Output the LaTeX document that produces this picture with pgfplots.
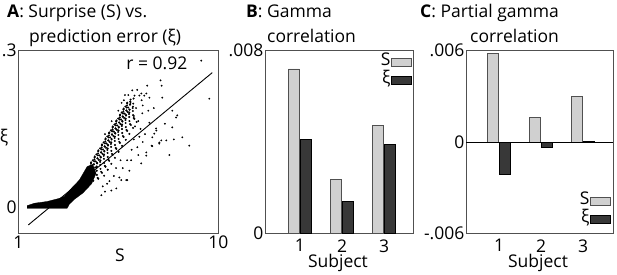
\documentclass[border=0pt]{standalone}
\usepackage{pgfplots}
\pgfplotsset{compat=1.18}
\usepackage{fontspec}
\setmainfont{Open Sans}
\definecolor{frame}{HTML}{505050}
\definecolor{lightbar}{HTML}{D0D0D0}
\definecolor{darkbar}{HTML}{383838}
\newcommand{\fs}{\fontsize{17.5}{21}\selectfont}
\begin{document}
\begin{tikzpicture}[font=\fs]
\useasboundingbox (0,0) rectangle (617pt,274pt);
\pgfplotsset{
  every axis/.append style={scale only axis, anchor=south west, clip=false,
    axis line style={frame, line width=1pt}, major tick length=0pt,
    tick label style={font=\fs}, scaled ticks=false,
    yticklabel style={inner sep=1.5pt}},
  boxleg/.style={legend image code/.code={\draw[##1] (0pt,-4pt) rectangle (20pt,4pt);}},
  barleg/.style={legend style={draw=none, fill=none, font=\fs, row sep=0pt, inner sep=0pt,
    nodes={inner sep=0.5pt, text height=12pt, text depth=5pt}},
    legend plot pos=right, legend cell align=right},
}
% ---------------- Panel A
\begin{axis}[at={(18.3pt,40.7pt)}, width=200pt, height=182.6pt,
  xmin=1, xmax=10, ymin=-0.05, ymax=0.3,
  xtick={1,10}, xticklabels={1,10}, xticklabel style={inner sep=2.5pt},
  ytick={0,0.3}, yticklabels={0\hspace{7pt},.3}]
% solid dense core
\addplot[fill=black, draw=black, line width=0.3pt] coordinates {
(1.40,-0.002) (1.40,0.003) (1.72,0.0076) (2.3,0.011) (2.85,0.017) (3.07,0.021)
(3.385,0.036) (3.745,0.052) (4.1,0.078) (4.35,0.082) (4.5,0.065) (4.3,0.045)
(3.9,0.027) (3.52,0.015) (3.3,0.006) (3.2,-0.002)} -- cycle;
% speckled band
\addplot[only marks, mark=*, mark size=0.8pt, black] coordinates {
(4.375,0.0506) (4.6,0.0546)
(4.366,0.0583) (4.569,0.0563) (4.861,0.0603)
(4.358,0.064) (4.538,0.062) (4.763,0.066)
(4.372,0.0668) (4.529,0.0698) (4.732,0.0678) (5.024,0.0718)
(4.25,0.0765) (4.385,0.0725) (4.52,0.0755) (4.7,0.0735) (4.925,0.0775)
(4.263,0.0802) (4.399,0.0822) (4.534,0.0782) (4.691,0.0812) (4.894,0.0792) (5.186,0.0832)
(4.278,0.086) (4.413,0.088) (4.548,0.084) (4.683,0.087) (4.863,0.085) (5.088,0.089)
(4.426,0.0917) (4.562,0.0937) (4.697,0.0897) (4.854,0.0927) (5.057,0.0907) (5.349,0.0947)
(4.44,0.0974) (4.575,0.0994) (4.71,0.0954) (4.845,0.0984) (5.025,0.0964) (5.25,0.1004)
(4.589,0.1031) (4.725,0.1051) (4.86,0.1011) (5.017,0.1041) (5.22,0.1021) (5.512,0.1061)
(4.603,0.1089) (4.738,0.1109) (4.873,0.1069) (5.008,0.1099) (5.188,0.1079) (5.413,0.1119)
(4.751,0.1146) (4.887,0.1166) (5.022,0.1126) (5.179,0.1156) (5.382,0.1136) (5.674,0.1176)
(4.765,0.1203) (4.9,0.1223) (5.035,0.1183) (5.17,0.1213) (5.35,0.1193) (5.575,0.1233)
(4.914,0.1261) (5.05,0.1281) (5.185,0.1241) (5.342,0.1271) (5.545,0.1251) (5.837,0.1291)
(4.928,0.1318) (5.063,0.1338) (5.198,0.1298) (5.333,0.1328) (5.513,0.1308) (5.738,0.1348)
(5.076,0.1375) (5.212,0.1395) (5.347,0.1355) (5.504,0.1385) (5.707,0.1365) (5.999,0.1405)
(5.091,0.1433) (5.226,0.1453) (5.361,0.1413) (5.496,0.1443) (5.676,0.1423) (5.901,0.1463)
(5.239,0.149) (5.375,0.151) (5.51,0.147) (5.667,0.150) (5.87,0.148) (6.162,0.152)
(5.253,0.1547) (5.388,0.1567) (5.523,0.1527) (5.658,0.1557) (5.838,0.1537) (6.063,0.1577)
(5.401,0.1604) (5.537,0.1624) (5.672,0.1584) (5.829,0.1614) (6.032,0.1594) (6.324,0.1634)
(5.416,0.1662) (5.551,0.1682) (5.686,0.1642) (5.821,0.1672) (6.001,0.1652) (6.226,0.1692)
(5.564,0.1719) (5.7,0.1739) (5.835,0.1699) (5.992,0.1729) (6.195,0.1709)
(5.578,0.1776) (5.713,0.1796) (5.848,0.1756) (5.983,0.1786) (6.163,0.1766)
(5.727,0.1834) (5.863,0.1854) (5.998,0.1814) (6.155,0.1844)
(5.741,0.1891) (5.876,0.1911) (6.011,0.1871) (6.146,0.1901)
(5.889,0.1948) (6.025,0.1968) (6.16,0.1928)
(5.903,0.2005) (6.038,0.2025) (6.173,0.1985)
(6.052,0.2063) (6.188,0.2083)
(4.321,0.0784) (4.461,0.0764)
(4.272,0.0841) (4.402,0.0821) (4.542,0.0851)
(4.354,0.0899) (4.484,0.0879) (4.624,0.0909)
(4.435,0.0956) (4.565,0.0936) (4.705,0.0966)
(4.516,0.1013) (4.646,0.0993) (4.786,0.1023)
(4.598,0.107) (4.728,0.105) (4.868,0.108)
(4.679,0.1128) (4.809,0.1108) (4.949,0.1138)
(4.76,0.1185) (4.89,0.1165) (5.03,0.1195)
(4.841,0.1242) (4.971,0.1222) (5.111,0.1252)
(4.923,0.13) (5.053,0.128) (5.193,0.131)
(5.004,0.1357) (5.134,0.1337) (5.274,0.1367)
(5.085,0.1414) (5.215,0.1394) (5.355,0.1424)
(5.167,0.1472) (5.297,0.1452) (5.437,0.1482)
(5.248,0.1529) (5.378,0.1509) (5.518,0.1539)
(5.329,0.1586) (5.459,0.1566) (5.599,0.1596)
(5.41,0.1643) (5.54,0.1623) (5.68,0.1653)
(5.492,0.1701) (5.622,0.1681) (5.762,0.1711)
(5.573,0.1758) (5.703,0.1738) (5.843,0.1768)
(5.654,0.1815) (5.784,0.1795) (5.924,0.1825)
(5.736,0.1873) (5.866,0.1853)
(5.817,0.193) (5.947,0.191)
(5.898,0.1987) (6.028,0.1967)
};
% sparse outliers
\addplot[only marks, mark=*, mark size=0.7pt, black] coordinates {
(6.8,0.233) (7.4,0.243) (7.45,0.233) (6.67,0.214) (6.45,0.214) (6.23,0.214) (6.9,0.21)
(6.0,0.187) (6.58,0.18) (6.9,0.162) (7.2,0.151) (7.12,0.141) (7.35,0.124) (7.66,0.128)
(7.0,0.118) (6.76,0.105) (6.53,0.084) (6.08,0.09) (5.86,0.052) (5.41,0.036) (5.55,0.057)
(4.74,0.023) (9.235,0.281) (9.595,0.208) (7.93,0.185) (8.155,0.176) (7.93,0.153)
(8.695,0.118) (8.38,0.134) (7.435,0.128) (7.03,0.134) (7.21,0.147) (6.535,0.218)
(6.13,0.224) (6.76,0.218) (7.345,0.122) (7.03,0.117) (6.355,0.115) (6.76,0.099)
(8.1,0.172) (5.185,0.032) (5.635,0.052) (5.905,0.052) (7.48,0.21) (6.5,0.15)
(6.6,0.125) (6.4,0.165) (6.2,0.13) (6.1,0.11) (5.9,0.09) (5.7,0.075) (6.4,0.1)
(6.7,0.14) (6.3,0.19) (6.6,0.195) (5.3,0.06) (5.0,0.045) (4.9,0.03) (5.6,0.09)
(6.0,0.07) (7.6,0.16) (7.8,0.1) (8.0,0.13) (6.85,0.185) (7.1,0.19) (6.45,0.135)
(6.25,0.155) (5.1,0.05) (4.8,0.04) (5.4,0.075) (6.2,0.175) (6.05,0.2) (5.95,0.215)
(6.35,0.225) (6.55,0.205) (5.75,0.205) (5.65,0.2) (5.5,0.185) (5.2,0.165) (4.9,0.14)
(5.8,0.215)
};
\addplot[black, line width=0.9pt] coordinates {(1.45,-0.034) (9.73,0.258)};
\node at (axis description cs:0.693,0.933) {r = 0.92};
\node at (axis description cs:-0.0715,0.522) {ξ};
\node at (axis description cs:0.508,-0.119) {S};
\end{axis}
% ---------------- Panel B
\begin{axis}[at={(265pt,40.7pt)}, width=148pt, height=182.6pt,
  ybar, bar width=0.262, xmin=0.167, xmax=3.69, ymin=0, ymax=0.008,
  xtick={1,2,3}, xticklabels={1,2,3}, xticklabel style={inner sep=1pt, yshift=-5pt},
  ytick={0,0.008}, yticklabels={0,.008}, barleg,
  legend style={at={(axis description cs:1,1)}, anchor=north east, xshift=-1pt, yshift=-2pt}]
\addplot[fill=lightbar, draw=frame, line width=0.8pt, bar shift=-0.148, boxleg]
  coordinates {(1,0.0072) (2,0.00236) (3,0.00472)};
\addplot[fill=darkbar, draw=black, line width=0.8pt, bar shift=0.148, boxleg]
  coordinates {(1,0.00411) (2,0.0014) (3,0.00388)};
\legend{S,ξ}
\node at (axis description cs:0.493,-0.165) {Subject};
\end{axis}
% ---------------- Panel C
\begin{axis}[at={(466pt,40.7pt)}, width=147pt, height=182.6pt,
  ybar, bar width=0.262, xmin=0.214, xmax=3.714, ymin=-0.006, ymax=0.006,
  xtick={1,2,3}, xticklabels={1,2,3}, xticklabel style={inner sep=1pt, yshift=-5pt},
  ytick={-0.006,0,0.006}, yticklabels={-.006,0,.006}, barleg,
  legend style={at={(axis description cs:1,0)}, anchor=south east, xshift=-2pt, yshift=5pt}]
\addplot[fill=lightbar, draw=frame, line width=0.8pt, bar shift=-0.148, boxleg]
  coordinates {(1,0.00582) (2,0.00163) (3,0.00298)};
\addplot[fill=darkbar, draw=black, line width=0.8pt, bar shift=0.148, boxleg]
  coordinates {(1,-0.00215) (2,-0.00034) (3,0.00003)};
\legend{S,ξ}
\draw[black, line width=0.8pt] (axis cs:0.214,0) -- (axis cs:3.714,0);
\node at (axis description cs:0.49,-0.165) {Subject};
\end{axis}
% ---------------- Titles
\node[anchor=base west, inner sep=0pt] at (7pt,257pt) {\textbf{A}: Surprise (S) vs.};
\node[anchor=base west, inner sep=0pt] at (29pt,232pt) {prediction error (ξ)};
\node[anchor=base west, inner sep=0pt] at (246pt,257pt) {\textbf{B}: Gamma};
\node[anchor=base west, inner sep=0pt] at (267pt,232pt) {correlation};
\node[anchor=base west, inner sep=0pt] at (420pt,257pt) {\textbf{C}: Partial gamma};
\node[anchor=base west, inner sep=0pt] at (470pt,232pt) {correlation};
\end{tikzpicture}
\end{document}
